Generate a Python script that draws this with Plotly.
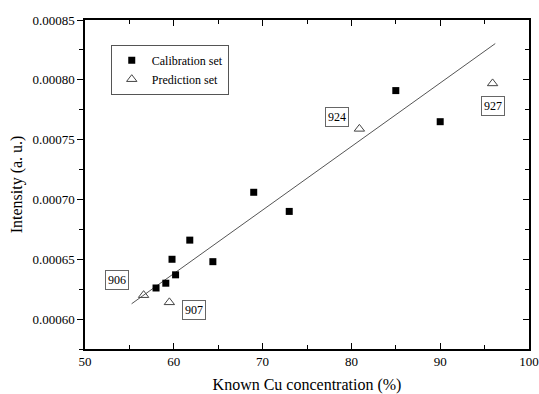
import plotly.graph_objects as go

cal_x = [58.0, 59.1, 59.8, 60.2, 61.8, 64.4, 69.0, 73.0, 85.0, 90.0]
cal_y = [0.000626, 0.000630, 0.000650, 0.000637, 0.000666, 0.000648, 0.000706, 0.000690, 0.000791, 0.000765]
pred_x = [56.6, 59.5, 80.9, 95.9]
pred_y = [0.000620, 0.000614, 0.000759, 0.000797]
pred_labels = ["906", "907", "924", "927"]
label_x = [53.6, 62.3, 78.4, 95.9]
label_y = [0.000633, 0.000608, 0.000769, 0.000778]
fit_x = [55.25, 96.2]
fit_y = [0.0006128, 0.0008303]

FONT = "Liberation Serif"
xr = [50, 100]
yr = [0.000575, 0.00085]

fig = go.Figure()
fig.add_trace(go.Scatter(x=fit_x, y=fit_y, mode="lines", line=dict(color="#555555", width=1), showlegend=False))
fig.add_trace(go.Scatter(x=cal_x, y=cal_y, mode="markers", name="Calibration set",
                         marker=dict(symbol="square", size=7, color="black")))
fig.add_trace(go.Scatter(x=pred_x, y=pred_y, mode="markers", name="Prediction set",
                         marker=dict(symbol="triangle-up-open", size=9, color="#444444", line=dict(width=1))))

for t, lx, ly in zip(pred_labels, label_x, label_y):
    fig.add_annotation(x=lx, y=ly, text=t, showarrow=False, font=dict(family=FONT, size=12, color="#000000"),
                       bordercolor="#666666", borderwidth=1, borderpad=2, bgcolor="white")

fig.update_layout(
    width=539, height=394,
    margin=dict(l=85, r=10, t=20, b=45, autoexpand=False),
    paper_bgcolor="white", plot_bgcolor="white",
    font=dict(family=FONT, size=13, color="black"),
    legend=dict(x=0.058, y=0.925, xanchor="left", yanchor="top", bordercolor="#555555", borderwidth=1,
                bgcolor="white", font=dict(family=FONT, size=12), itemwidth=30, tracegroupgap=0),
    xaxis=dict(range=xr, dtick=10, ticks="inside", ticklen=6, tickwidth=1, tickcolor="black", automargin=False,
               minor=dict(dtick=5, ticks="inside", ticklen=4, tickcolor="black"),
               showline=True, linecolor="black", linewidth=1.5, showgrid=False, zeroline=False,
               title=dict(text="Known Cu concentration (%)", font=dict(family=FONT, size=16), standoff=14),
               tickfont=dict(family=FONT, size=13)),
    yaxis=dict(range=yr, tick0=0.0006, dtick=0.00005, tickformat=".5f", ticks="outside", ticklen=6, tickwidth=1,
               tickcolor="black", automargin=False,
               minor=dict(dtick=0.000025, ticks="outside", ticklen=4, tickcolor="black"),
               showline=True, linecolor="black", linewidth=1.5, showgrid=False, zeroline=False,
               title=dict(text="Intensity (a. u.)", font=dict(family=FONT, size=16), standoff=6),
               tickfont=dict(family=FONT, size=13)),
    xaxis2=dict(range=xr, overlaying="x", side="top", dtick=10, ticks="inside", ticklen=6, tickcolor="black",
                automargin=False, minor=dict(dtick=5, ticks="inside", ticklen=4, tickcolor="black"),
                showticklabels=False, showline=True, linecolor="black", linewidth=1.5, showgrid=False, zeroline=False),
    yaxis2=dict(range=yr, overlaying="y", side="right", tick0=0.0006, dtick=0.00005, ticks="inside", ticklen=6,
                automargin=False, tickcolor="black",
                minor=dict(dtick=0.000025, ticks="inside", ticklen=4, tickcolor="black"),
                showticklabels=False, showline=True, linecolor="black", linewidth=1.5, showgrid=False, zeroline=False),
)
fig.add_trace(go.Scatter(x=[None], y=[None], xaxis="x2", yaxis="y2", showlegend=False, hoverinfo="skip"))
fig.write_html("out.html")
